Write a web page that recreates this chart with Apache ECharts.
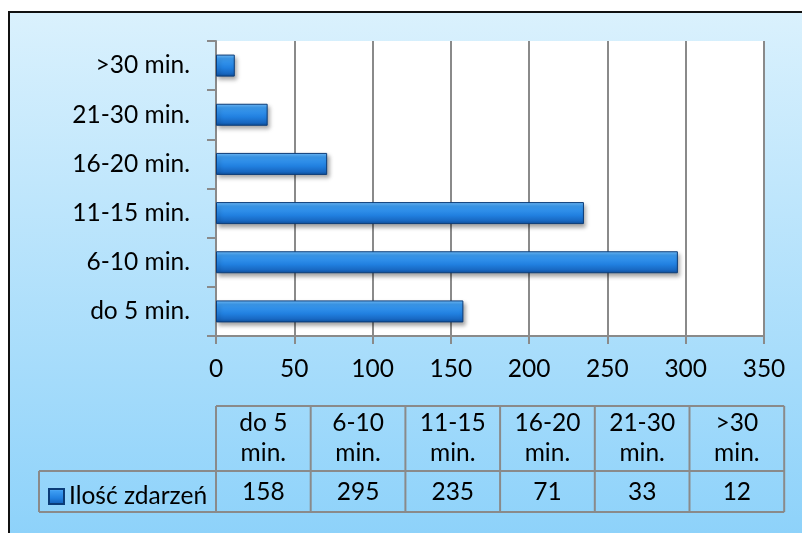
<!DOCTYPE html>
<html>
<head>
<meta charset="utf-8">
<script src="https://cdn.jsdelivr.net/npm/echarts@6/dist/echarts.min.js"></script>
<style>
  html, body { margin: 0; padding: 0; background: #fff; }
  #main { width: 802px; height: 533px; }
</style>
</head>
<body>
<div id="main"></div>
<script>
  // dane wykresu
  var categories = ['do 5 min.', '6-10 min.', '11-15 min.', '16-20 min.', '21-30 min.', '>30 min.'];
  var values = [158, 295, 235, 71, 33, 12];
  var tableHeads = [['do 5', 'min.'], ['6-10', 'min.'], ['11-15', 'min.'], ['16-20', 'min.'], ['21-30', 'min.'], ['>30', 'min.']];
  var seriesName = 'Ilość zdarzeń';
  var xTicks = [0, 350, 50]; // min, max, interval

  var font = 'Lato, "Open Sans", sans-serif';
  var fs = 24.5;
  var lineCol = '#8a8a8a';

  var barColor = new echarts.graphic.LinearGradient(0, 0, 0, 1, [
    { offset: 0, color: '#74befb' },
    { offset: 0.18, color: '#3d9df2' },
    { offset: 0.6, color: '#2180e0' },
    { offset: 0.85, color: '#1868c2' },
    { offset: 1, color: '#0f4f9a' }
  ]);

  // tabela danych pod wykresem
  function buildTable() {
    var els = [];
    var x0 = 216, colW = 94.7, yTop = 406, yMid = 471, yBot = 512, legX = 39;
    var xEnd = x0 + colW * categories.length;
    var st = { stroke: lineCol, lineWidth: 2 };
    els.push({ type: 'line', shape: { x1: x0, y1: yTop, x2: xEnd, y2: yTop }, style: st });
    els.push({ type: 'line', shape: { x1: legX, y1: yMid, x2: xEnd, y2: yMid }, style: st });
    els.push({ type: 'line', shape: { x1: legX, y1: yBot, x2: xEnd, y2: yBot }, style: st });
    els.push({ type: 'line', shape: { x1: legX, y1: yMid, x2: legX, y2: yBot }, style: st });
    for (var i = 0; i <= categories.length; i++) {
      var x = x0 + colW * i;
      els.push({ type: 'line', shape: { x1: x, y1: yTop, x2: x, y2: yBot }, style: st });
    }
    for (var j = 0; j < categories.length; j++) {
      var cx = x0 + colW * j + colW / 2;
      els.push({ type: 'text', x: cx, y: 423, style: { text: tableHeads[j][0], font: fs + 'px ' + font, fill: '#000', textAlign: 'center', textVerticalAlign: 'middle' } });
      els.push({ type: 'text', x: cx, y: 453, style: { text: tableHeads[j][1], font: fs + 'px ' + font, fill: '#000', textAlign: 'center', textVerticalAlign: 'middle' } });
      els.push({ type: 'text', x: cx, y: 492, style: { text: String(values[j]), font: fs + 'px ' + font, fill: '#000', textAlign: 'center', textVerticalAlign: 'middle' } });
    }
    return els;
  }

  var chart = echarts.init(document.getElementById('main'));
  var option = {
    animation: false,
    graphic: [
      {
        type: 'rect', z: -10, silent: true,
        shape: { x: 9, y: 12, width: 820, height: 540 },
        style: {
          fill: new echarts.graphic.LinearGradient(0, 0, 0, 1, [
            { offset: 0, color: '#daf1fd' },
            { offset: 1, color: '#8bd1fa' }
          ]),
          stroke: '#111', lineWidth: 2
        }
      }
    ].concat(buildTable()),
    legend: {
      left: 43, top: 479,
      itemWidth: 15, itemHeight: 15, itemGap: 6,
      icon: 'rect',
      textStyle: { fontFamily: font, fontSize: fs, color: '#000' },
      data: [seriesName]
    },
    grid: {
      left: 216, top: 41, width: 548, height: 295,
      show: true, backgroundColor: '#fff', borderWidth: 0
    },
    xAxis: {
      type: 'value',
      min: xTicks[0], max: xTicks[1], interval: xTicks[2],
      axisLine: { show: true, lineStyle: { color: lineCol, width: 2 } },
      axisTick: { show: true, length: 8, lineStyle: { color: lineCol, width: 2 } },
      splitLine: { show: true, lineStyle: { color: lineCol, width: 2 } },
      axisLabel: { margin: 21, fontFamily: font, fontSize: fs, color: '#000' }
    },
    yAxis: {
      type: 'category',
      data: categories,
      axisLine: { show: true, lineStyle: { color: lineCol, width: 2 } },
      axisTick: { show: true, length: 9, lineStyle: { color: lineCol, width: 2 } },
      axisLabel: { margin: 26, fontFamily: font, fontSize: fs, color: '#000' }
    },
    series: [{
      name: seriesName,
      type: 'bar',
      barWidth: 22,
      data: values,
      itemStyle: {
        color: barColor,
        borderColor: '#0b3c78', borderWidth: 1,
        shadowColor: 'rgba(0,0,0,0.35)', shadowBlur: 4, shadowOffsetX: 2, shadowOffsetY: 3
      }
    }]
  };
  chart.setOption(option);
</script>
</body>
</html>
